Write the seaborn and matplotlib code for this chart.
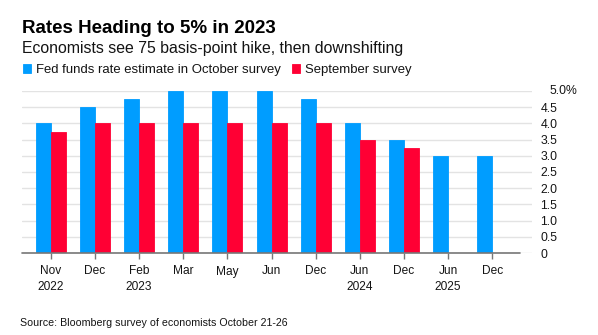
import matplotlib
matplotlib.use("Agg")
import matplotlib.pyplot as plt
import seaborn as sns
import pandas as pd

periods = ["2022-11", "2022-12", "2023-02", "2023-03", "2023-05", "2023-06",
           "2023-12", "2024-06", "2024-12", "2025-06", "2025-12"]
tick_labels = ["Nov\n2022", "Dec", "Feb\n2023", "Mar", "May", "Jun",
               "Dec", "Jun\n2024", "Dec", "Jun\n2025", "Dec"]
october = [4.0, 4.5, 4.75, 5.0, 5.0, 5.0, 4.75, 4.0, 3.5, 3.0, 3.0]
september = [3.75, 4.0, 4.0, 4.0, 4.0, 4.0, 4.0, 3.5, 3.25, 0.0, 0.0]
series_names = ["Fed funds rate estimate in October survey", "September survey"]
y_ticks = [0, 0.5, 1.0, 1.5, 2.0, 2.5, 3.0, 3.5, 4.0, 4.5, 5.0]
y_tick_labels = ["0", "0.5", "1.0", "1.5", "2.0", "2.5", "3.0", "3.5", "4.0", "4.5", ""]

BLUE = "#009DFF"
RED = "#FF0034"
TXT = "#141414"

df = pd.DataFrame({
    "period": periods * 2,
    "rate": october + september,
    "survey": [series_names[0]] * len(periods) + [series_names[1]] * len(periods),
})

sns.set_style("white")
plt.rcParams["font.family"] = ["Liberation Sans", "DejaVu Sans"]

fig = plt.figure(figsize=(5.98, 3.35), dpi=100)
W, H = 598, 335
ax_left, ax_right, ax_top, ax_bottom = 21.7, 532, 91, 253
ax = fig.add_axes([ax_left / W, 1 - ax_bottom / H, (ax_right - ax_left) / W, (ax_bottom - ax_top) / H])

sns.barplot(data=df, x="period", y="rate", hue="survey", order=periods,
            hue_order=series_names, palette=[BLUE, RED], width=0.68,
            saturation=1, ax=ax, linewidth=0.6)
for p in ax.patches:
    p.set_edgecolor(p.get_facecolor())
    p.set_linewidth(0.6)

ax.set_xlim(-0.66, 10.9)
ax.set_ylim(0, 5.0)
ax.set_xlabel("")
ax.set_ylabel("")
for s in ax.spines.values():
    s.set_visible(False)

ax.yaxis.tick_right()
ax.set_yticks(y_ticks)
ax.set_yticklabels(y_tick_labels)
ax.tick_params(axis="y", length=0, pad=6, labelsize=8.8, labelcolor=TXT)
for lab in ax.get_yticklabels():
    lab.set_horizontalalignment("left")
ax.yaxis.grid(True, color="#E3E3E3", linewidth=1.0)
ax.set_axisbelow(True)
ax.annotate("5.0%", xy=(1, 5.0), xycoords=("axes fraction", "data"),
            xytext=(17, 0), textcoords="offset pixels", ha="left", va="center",
            fontsize=8.8, color=TXT)

ax.set_xticks(range(len(periods)))
ax.set_xticklabels(tick_labels, linespacing=1.35)
ax.tick_params(axis="x", direction="out", length=4, width=1, color="#777777",
               pad=5, labelsize=8.6, labelcolor=TXT, bottom=True)
ax.plot([-0.66, 10.63], [0, 0], color="#777777", linewidth=1.2,
        transform=ax.transData, clip_on=False, zorder=5)

handles, labels = ax.get_legend_handles_labels()
ax.get_legend().remove()
fig.legend(handles, series_names, loc="upper left", bbox_to_anchor=(23 / W, 1 - 64 / H),
           ncol=2, frameon=False, handlelength=0.6, handleheight=0.6,
           handletextpad=0.42, columnspacing=0.8, borderpad=0, borderaxespad=0,
           fontsize=9.45, labelcolor=TXT)

fig.text(22 / W, 1 - 33 / H, "Rates Heading to 5% in 2023", fontsize=13.5,
         fontweight="bold", color="#000000", va="baseline", ha="left")
fig.text(22 / W, 1 - 53 / H, "Economists see 75 basis-point hike, then downshifting",
         fontsize=11.45, color=TXT, va="baseline", ha="left")
fig.text(19.5 / W, 1 - 326 / H, "Source: Bloomberg survey of economists October 21-26",
         fontsize=7.65, color=TXT, va="baseline", ha="left")

fig.savefig("out.png", dpi=100, facecolor="white")
